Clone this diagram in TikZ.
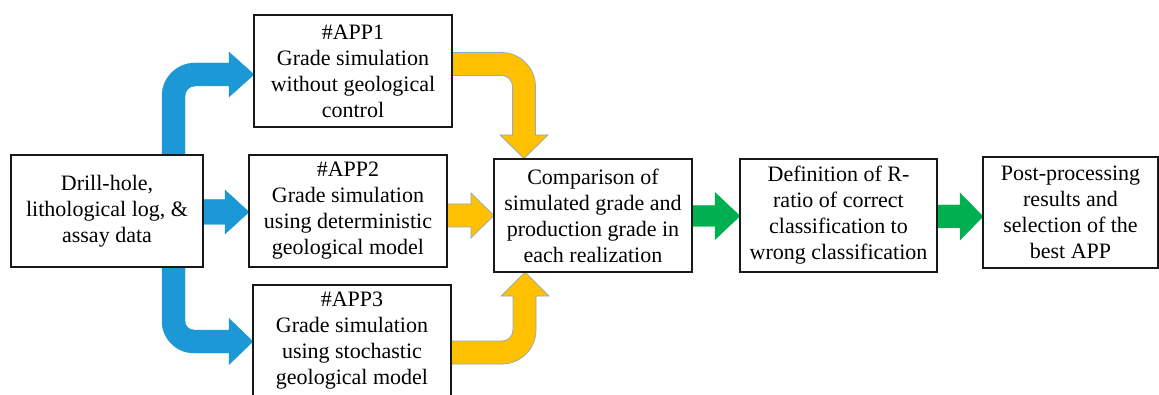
\documentclass[tikz,border=0pt]{standalone}
\usepackage{fontspec}
\setmainfont{Liberation Serif}
\definecolor{arrblue}{RGB}{27,152,213}
\definecolor{arrorange}{RGB}{255,192,0}
\definecolor{arrgreen}{RGB}{0,176,80}
\definecolor{arrline}{RGB}{140,170,195}
\definecolor{boxline}{RGB}{25,25,25}
\tikzset{
  box/.style={draw=boxline, line width=1.3pt, fill=white, align=center, inner sep=0pt,
    font=\fontsize{22}{26}\selectfont},
  bluearrow/.style={fill=arrblue, draw=arrblue, line width=0.4pt},
  orangearrow/.style={fill=arrorange, draw=arrline, line width=0.7pt},
  greenarrow/.style={fill=arrgreen, draw=arrgreen, line width=0.4pt},
}
\begin{document}
\begin{tikzpicture}[x=1pt,y=1pt]
\useasboundingbox (0,0) rectangle (1159,394);
% block arrows (drawn first, boxes on top)
% blue: drill -> APP1
\path[bluearrow] (162,239) -- (162,298) arc[start angle=180, end angle=90, radius=33pt]
  -- (229,331) -- (229,342) -- (254,319.5) -- (229,297) -- (229,308) -- (195,308)
  arc[start angle=90, end angle=180, radius=10pt] -- (185,239) -- cycle;
% blue: drill -> APP2
\path[bluearrow] (203,194.5) -- (225,194.5) -- (225,204) -- (249,182) -- (225,160)
  -- (225,169.5) -- (203,169.5) -- cycle;
% blue: drill -> APP3
\path[bluearrow] (162,127) -- (162,73) arc[start angle=180, end angle=270, radius=32pt]
  -- (229,41) -- (229,29.5) -- (253,52.5) -- (229,75.5) -- (229,64) -- (194,64)
  arc[start angle=270, end angle=180, radius=9pt] -- (185,127) -- cycle;
% orange: APP1 -> comparison
\path[orangearrow] (452,341.5) -- (501.5,341.5) arc[start angle=90, end angle=0, radius=34pt]
  -- (535.5,259) -- (548,259) -- (524,235.5) -- (500,259) -- (512.5,259) -- (512.5,307.5)
  arc[start angle=0, end angle=90, radius=11pt] -- (452,318.5) -- cycle;
% orange: APP2 -> comparison
\path[orangearrow] (447,190) -- (471,190) -- (471,201) -- (494,178.5) -- (471,156)
  -- (471,167) -- (447,167) -- cycle;
% orange: APP3 -> comparison
\path[orangearrow] (451,53) -- (502,53) arc[start angle=270, end angle=360, radius=11pt]
  -- (513,98) -- (501,98) -- (525,122) -- (549,98) -- (536,98) -- (536,64)
  arc[start angle=0, end angle=-90, radius=34pt] -- (451,30) -- cycle;
% green arrows
\path[greenarrow] (692,188.5) -- (715,188.5) -- (715,201.5) -- (740,178) -- (715,154.5)
  -- (715,167.5) -- (692,167.5) -- cycle;
\path[greenarrow] (937,189) -- (960,189) -- (960,201) -- (983,177.5) -- (960,154)
  -- (960,166) -- (937,166) -- cycle;
% boxes
\node[box, minimum width=192pt, minimum height=112pt] (drill) at (107,183)
  {Drill-hole,\\lithological log, \&\\assay data};
\node[box, minimum width=198pt, minimum height=112pt] (app1) at (353,323)
  {\#APP1\\Grade simulation\\without geological\\control};
\node[box, minimum width=198pt, minimum height=112pt] (app2) at (348,183)
  {\#APP2\\Grade simulation\\using deterministic\\geological model};
\node[box, minimum width=198pt, minimum height=112pt] (app3) at (352,53)
  {\#APP3\\Grade simulation\\using stochastic\\geological model};
\node[box, minimum width=198pt, minimum height=113pt] (comp) at (593,178.5)
  {Comparison of\\simulated grade and\\production grade in\\each realization};
\node[box, minimum width=197pt, minimum height=113pt] (def) at (838.5,178.5)
  {Definition of R-\\ratio of correct\\classification to\\wrong classification};
\node[box, minimum width=175pt, minimum height=111pt] (post) at (1070.5,181.5)
  {Post-processing\\results and\\selection of the\\best APP};
\end{tikzpicture}
\end{document}
